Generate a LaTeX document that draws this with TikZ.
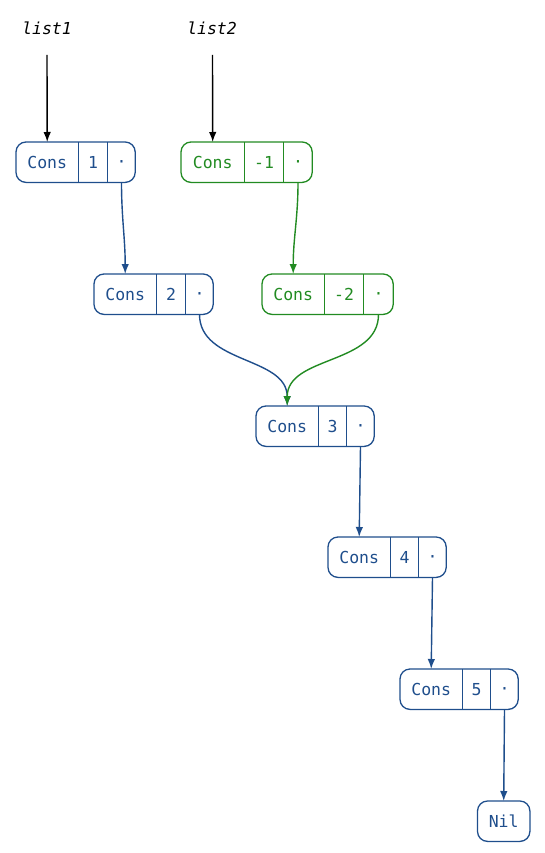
\documentclass[tikz,border=0pt]{standalone}
\usepackage{fontspec}
\setmonofont{DejaVu Sans Mono}
\usetikzlibrary{arrows.meta}
\definecolor{lblue}{HTML}{1F4E8C}
\definecolor{lgreen}{HTML}{228B22}
\tikzset{
  cellbox/.style={inner sep=0pt, minimum height=40pt, font=\ttfamily\fontsize{16.5}{19}\selectfont},
  dotbox/.style={inner sep=0pt, anchor=base, yshift=-5.5pt, font=\ttfamily\fontsize{16.5}{19}\selectfont},
  outline/.style={line width=1.3pt, rounded corners=10pt},
  ptr/.style={line width=1.4pt, -{Latex[length=10pt,width=7.5pt]}},
  lbl/.style={font=\ttfamily\itshape\fontsize{16.5}{19}\selectfont, text=black}
}
\newcommand\mkcons[8]{%
  \node[cellbox,text=#8,minimum width=#4pt,anchor=north west] (#1c) at (#2,#3) {Cons};
  \node[cellbox,text=#8,minimum width=#5pt,anchor=north west] (#1v) at (#1c.north east) {#7};
  \node[cellbox,minimum width=#6pt,anchor=north west] (#1p) at (#1v.north east) {};
  \node[dotbox,text=#8] (#1d) at (#1p.center) {·};
  \draw[#8,outline] (#1c.north west) rectangle (#1p.south east);
  \draw[#8,line width=1.3pt] (#1c.north east) -- (#1c.south east) (#1v.north east) -- (#1v.south east);
}
\begin{document}
\begin{tikzpicture}[x=1pt,y=-1pt]
\useasboundingbox (0,0) rectangle (545,853);
\node[lbl] (l1) at (47,28) {list1};
\node[lbl] (l2) at (212,28) {list2};
\coordinate (s1) at (47,55);
\coordinate (s2) at (212.5,55);
\mkcons{a}{16}{142}{62}{29}{27}{1}{lblue}
\mkcons{b}{181}{142}{63}{39}{28}{-1}{lgreen}
\mkcons{c}{94}{274}{62}{29}{27}{2}{lblue}
\mkcons{d}{262}{274}{62}{39}{29}{-2}{lgreen}
\mkcons{e}{256}{406}{62}{28}{27}{3}{lblue}
\mkcons{f}{328}{537}{62}{28}{27}{4}{lblue}
\mkcons{g}{400}{669}{62}{28}{27}{5}{lblue}
\node[cellbox,text=lblue,minimum width=52pt,anchor=north west] (nil) at (477.5,801) {Nil};
\draw[lblue,outline] (nil.north west) rectangle (nil.south east);
\draw[ptr,black] (s1) -- (ac.north);
\draw[ptr,black] (s2) -- (bc.north);
\draw[ptr,lblue] (ap.south) to[out=-90,in=90] (cc.north);
\draw[ptr,lgreen] (bp.south) to[out=-90,in=90] (dc.north);
\draw[ptr,lblue] (cp.south) to[out=-90,in=90] (ec.north);
\draw[ptr,lgreen] (dp.south) to[out=-90,in=90] (ec.north);
\draw[ptr,lblue] (ep.south) -- (fc.north);
\draw[ptr,lblue] (fp.south) -- (gc.north);
\draw[ptr,lblue] (gp.south) -- (nil.north);
\end{tikzpicture}
\end{document}
